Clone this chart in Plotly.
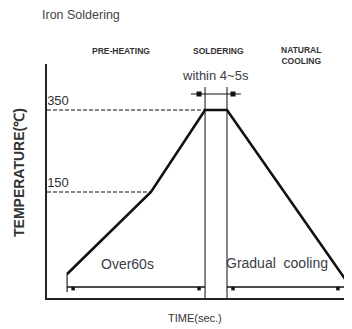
import plotly.graph_objects as go

# ---- data (schematic soldering profile) ----
profile_time = [8.7, 45.0, 68.4, 77.9, 129.0]      # s (schematic)
profile_temp = [-50, 150, 350, 350, -62]            # degC (schematic)
ref_temps = [150, 350]
ref_labels = ["150", "350"]
ref_dash_end = [45.0, 68.4]
solder_start, solder_end = 68.4, 77.9
guide_top = 406
arrow_level = 389
arrow_span = [62.3, 83.9]
arrow_tips = [65.8, 80.5]
dim_level = -81.7
dim_tick_bottom = -94
dim_marks = [11.3, 65.8, 80.5, 125.9]
x_range = [0, 132]
y_range = [-108.5, 462.2]

SANS = "Liberation Sans, Arial"
INK = "#111"
TXT = "#3a3d45"

fig = go.Figure()
line_style = dict(color=INK, width=1.1)

# dashed reference lines
for t, xe in zip(ref_temps, ref_dash_end):
    fig.add_trace(go.Scatter(x=[x_range[0], xe], y=[t, t], mode="lines",
                             line=dict(color=INK, width=1.2, dash="4px,2px"), hoverinfo="skip"))

# soldering guide verticals
for xs in [solder_start, solder_end]:
    fig.add_trace(go.Scatter(x=[xs, xs], y=[guide_top, y_range[0]], mode="lines",
                             line=dict(color="#222", width=1.1), hoverinfo="skip"))

# top dimension arrow
fig.add_trace(go.Scatter(x=arrow_span, y=[arrow_level] * 2, mode="lines",
                         line=line_style, hoverinfo="skip"))
fig.add_trace(go.Scatter(x=arrow_tips, y=[arrow_level] * 2, mode="markers",
                         marker=dict(symbol="square", size=5, color=INK), hoverinfo="skip"))

# bottom dimension lines
for xa, xb in [(profile_time[0], solder_start), (solder_end, profile_time[-1])]:
    fig.add_trace(go.Scatter(x=[xa, xb], y=[dim_level] * 2, mode="lines",
                             line=dict(color=INK, width=1.3), hoverinfo="skip"))
for xt, yt in [(profile_time[0], profile_temp[0]), (profile_time[-1], profile_temp[-1])]:
    fig.add_trace(go.Scatter(x=[xt, xt], y=[yt, dim_tick_bottom], mode="lines",
                             line=line_style, hoverinfo="skip"))
fig.add_trace(go.Scatter(x=dim_marks, y=[dim_level - 4] * len(dim_marks), mode="markers",
                         marker=dict(symbol="square", size=3.5, color=INK), hoverinfo="skip"))

# profile curve
fig.add_trace(go.Scatter(x=profile_time, y=profile_temp, mode="lines",
                         line=dict(color=INK, width=2.6), hoverinfo="skip"))

# ---- layout (page body has an 8px margin) ----
OFF = 8
W, H = 352 - OFF, 329 - OFF
L, R, T, B = 47 - OFF, 0, 64 - OFF, 31
pw, ph = W - L - R, H - T - B


def px(x):
    return (x - OFF - L) / pw


def py(y):
    return (H - B - (y - OFF)) / ph


def ann(text, x, y, size, color=TXT, xanchor="center", angle=0, bold=False):
    fig.add_annotation(text=text, x=px(x), y=py(y), xref="paper", yref="paper",
                       xanchor=xanchor, yanchor="middle", showarrow=False, textangle=angle,
                       font=dict(family=SANS, size=size, color=color,
                                 weight="bold" if bold else "normal"))


ann("Iron Soldering", 40, 15, 12.5, color="#444", xanchor="left")
ann("PRE-HEATING", 121, 51, 8.5, color="#333", bold=True)
ann("SOLDERING", 218, 51, 8.5, color="#333", bold=True)
ann("NATURAL<br>COOLING", 301, 56, 8.5, color="#333", bold=True)
ann("within 4~5s", 215, 75, 13)
ann("Over60s", 128, 264, 14)
ann("Gradual  cooling", 277, 263, 14)
ann("TIME(sec.)", 195, 318, 11, color="#333")
ann("TEMPERATURE(℃)", 19, 173, 14, color="#333", angle=-90, bold=True)

fig.update_layout(
    width=W, height=H, margin=dict(l=L, r=R, t=T, b=B, pad=0),
    paper_bgcolor="white", plot_bgcolor="white", showlegend=False,
    xaxis=dict(range=x_range, showgrid=False, zeroline=False, showticklabels=False,
               ticks="", showline=True, linecolor="#222", linewidth=2),
    yaxis=dict(range=y_range, showgrid=False, zeroline=False, ticks="",
               tickvals=ref_temps, ticktext=ref_labels, ticklabelposition="inside",
               ticklabelshift=-10, ticklabelstandoff=0,
               tickfont=dict(family=SANS, size=13, color="#333"),
               showline=True, linecolor="#222", linewidth=1.5),
)

fig.write_html("out.html")
